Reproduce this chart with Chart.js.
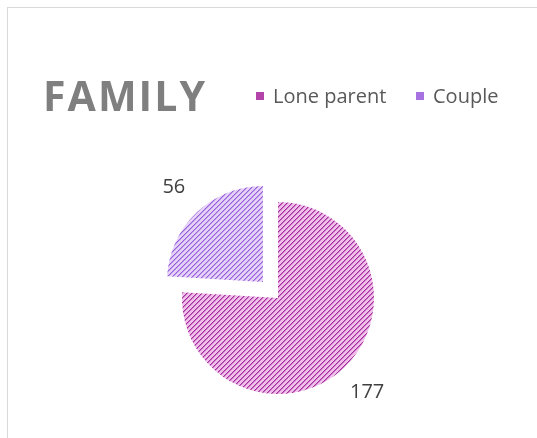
<!DOCTYPE html>
<html>
<head>
<meta charset="utf-8">
<script src="https://cdn.jsdelivr.net/npm/chart.js@4/dist/chart.umd.min.js"></script>
<style>
  html, body { margin: 0; padding: 0; background: #fff; overflow: hidden; }
  #frame { position: absolute; left: 7px; top: 7px; width: 600px; height: 500px; border: 1px solid #d9d9d9; }
  #wrap { position: absolute; left: 0; top: 0; width: 537px; height: 438px; }
</style>
</head>
<body>
<div id="frame"></div>
<div id="wrap"><canvas id="familyChart"></canvas></div>
<script>
// Dados do gráfico
const chartTitle = 'FAMILY';
const categories = ['Lone parent', 'Couple'];
const values = [177, 56];

// cores: fundo claro, listra escura, meio-tom
const sliceColors = [
    { base: '#efc0ea', dark: '#a52f9c', mid: '#cd72c4', swatch: '#b444aa' },
    { base: '#e5d4f8', dark: '#975bdb', mid: '#bd98ec', swatch: '#a672e2' }
];

// cria um padrão de listras diagonais "/"
function makeStripes(c) {
    const size = 5;
    const tile = document.createElement('canvas');
    tile.width = size;
    tile.height = size;
    const t = tile.getContext('2d');
    t.fillStyle = c.base;
    t.fillRect(0, 0, size, size);
    for (let i = 0; i < size; i++) {
        t.fillStyle = c.dark;
        t.fillRect(i, size - 1 - i, 1, 1);
        t.fillStyle = c.mid;
        t.fillRect(i, (size - i) % size, 1, 1);
    }
    return t.createPattern(tile, 'repeat');
}

const patterns = sliceColors.map(makeStripes);

// Título, legenda e rótulos desenhados à mão
const decorPlugin = {
    id: 'decor',
    afterDatasetsDraw(chart) {
        const ctx = chart.ctx;
        ctx.save();

        // título "FAMILY" com letras espaçadas
        ctx.font = 'bold 41px "Open Sans"';
        ctx.fillStyle = '#7f7f7f';
        ctx.textBaseline = 'alphabetic';
        const plain = ctx.measureText(chartTitle).width;
        const gap = (162 - plain) / (chartTitle.length - 1);
        let x = 43;
        for (const ch of chartTitle) {
            ctx.fillText(ch, x, 111);
            x += ctx.measureText(ch).width + gap;
        }

        // legenda
        ctx.font = '20px "Open Sans"';
        const legendX = [256, 416];
        categories.forEach((label, i) => {
            ctx.fillStyle = sliceColors[i].swatch;
            ctx.fillRect(legendX[i], 92, 8, 8);
            ctx.fillStyle = '#595959';
            ctx.fillText(label, legendX[i] + 17, 103);
        });

        // rótulos de valor fora das fatias
        ctx.font = '20px "Open Sans"';
        ctx.fillStyle = '#404040';
        ctx.textAlign = 'center';
        ctx.textBaseline = 'middle';
        const meta = chart.getDatasetMeta(0);
        meta.data.forEach((arc, i) => {
            const mid = (arc.startAngle + arc.endAngle) / 2;
            // o Chart.js v4 desloca a fatia por offset / 4
            const off = (arc.options.offset || 0) / 4;
            const r = off + 130;
            ctx.fillText(String(values[i]), arc.x + Math.cos(mid) * r, arc.y + Math.sin(mid) * r);
        });

        ctx.restore();
    }
};

document.addEventListener('DOMContentLoaded', () => {
    const ctx = document.getElementById('familyChart');
    new Chart(ctx, {
        type: 'pie',
        data: {
            labels: categories,
            datasets: [{
                data: values,
                backgroundColor: patterns,
                borderWidth: 0,
                offset: [0, 88],
                radius: 96
            }]
        },
        options: {
            responsive: true,
            maintainAspectRatio: false,
            animation: false,
            layout: { padding: { left: 110, right: 91, top: 170, bottom: 12 } },
            plugins: {
                legend: { display: false },
                title: { display: false },
                tooltip: { enabled: false }
            }
        },
        plugins: [decorPlugin]
    });
});
</script>
</body>
</html>
